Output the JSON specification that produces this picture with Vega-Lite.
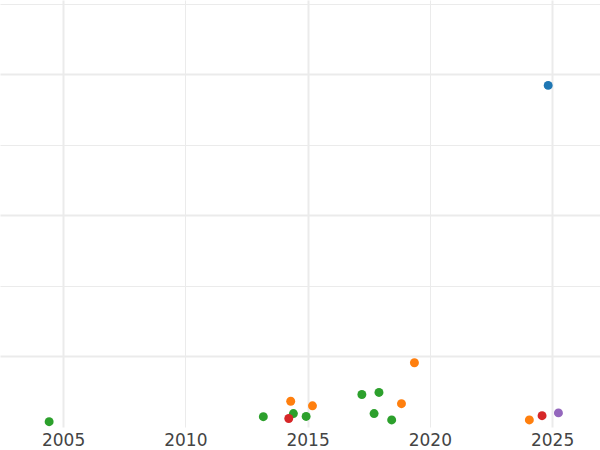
{
  "$schema": "https://vega.github.io/schema/vega-lite/v6.json",
  "width": 600,
  "height": 427,
  "autosize": "none",
  "padding": {"left": 0, "top": 0, "right": 0, "bottom": 23},
  "background": "white",
  "config": {"view": {"stroke": null}},
  "data": {
    "values": [
      {"year": 2004.43, "value": 0.075, "group": "C"},
      {"year": 2013.19, "value": 0.146, "group": "C"},
      {"year": 2014.31, "value": 0.365, "group": "B"},
      {"year": 2014.42, "value": 0.19, "group": "C"},
      {"year": 2014.23, "value": 0.12, "group": "D"},
      {"year": 2014.94, "value": 0.15, "group": "C"},
      {"year": 2015.2, "value": 0.30, "group": "B"},
      {"year": 2019.37, "value": 0.91, "group": "B"},
      {"year": 2017.22, "value": 0.46, "group": "C"},
      {"year": 2017.92, "value": 0.49, "group": "C"},
      {"year": 2017.72, "value": 0.19, "group": "C"},
      {"year": 2018.84, "value": 0.33, "group": "B"},
      {"year": 2018.44, "value": 0.10, "group": "C"},
      {"year": 2024.07, "value": 0.10, "group": "B"},
      {"year": 2024.59, "value": 0.16, "group": "D"},
      {"year": 2025.26, "value": 0.20, "group": "E"},
      {"year": 2024.84, "value": 4.84, "group": "A"}
    ]
  },
  "mark": {"type": "circle", "size": 80, "opacity": 1},
  "encoding": {
    "x": {
      "field": "year",
      "type": "quantitative",
      "scale": {"domain": [2002.42, 2026.96], "nice": false, "zero": false},
      "axis": {
        "title": null,
        "values": [2005, 2010, 2015, 2020, 2025],
        "format": "d",
        "domain": false,
        "ticks": false,
        "labelFontSize": 17,
        "labelColor": "#444444",
        "labelFont": "DejaVu Sans",
        "labelPadding": 5,
        "gridColor": "#ebebeb",
        "gridWidth": {"condition": {"test": "datum.value === 2010 || datum.value === 2020", "value": 1}, "value": 2}
      }
    },
    "y": {
      "field": "value",
      "type": "quantitative",
      "scale": {"domain": [0, 6.05], "nice": false, "zero": false},
      "axis": {
        "title": null,
        "values": [1, 2, 3, 4, 5, 6],
        "labels": false,
        "ticks": false,
        "domain": false,
        "gridColor": "#ebebeb",
        "gridWidth": {"condition": {"test": "datum.value % 2 === 0", "value": 1}, "value": 2}
      }
    },
    "color": {
      "field": "group",
      "type": "nominal",
      "scale": {"domain": ["A", "B", "C", "D", "E"], "range": ["#1f77b4", "#ff7f0e", "#2ca02c", "#d62728", "#9467bd"]},
      "legend": null
    }
  }
}
